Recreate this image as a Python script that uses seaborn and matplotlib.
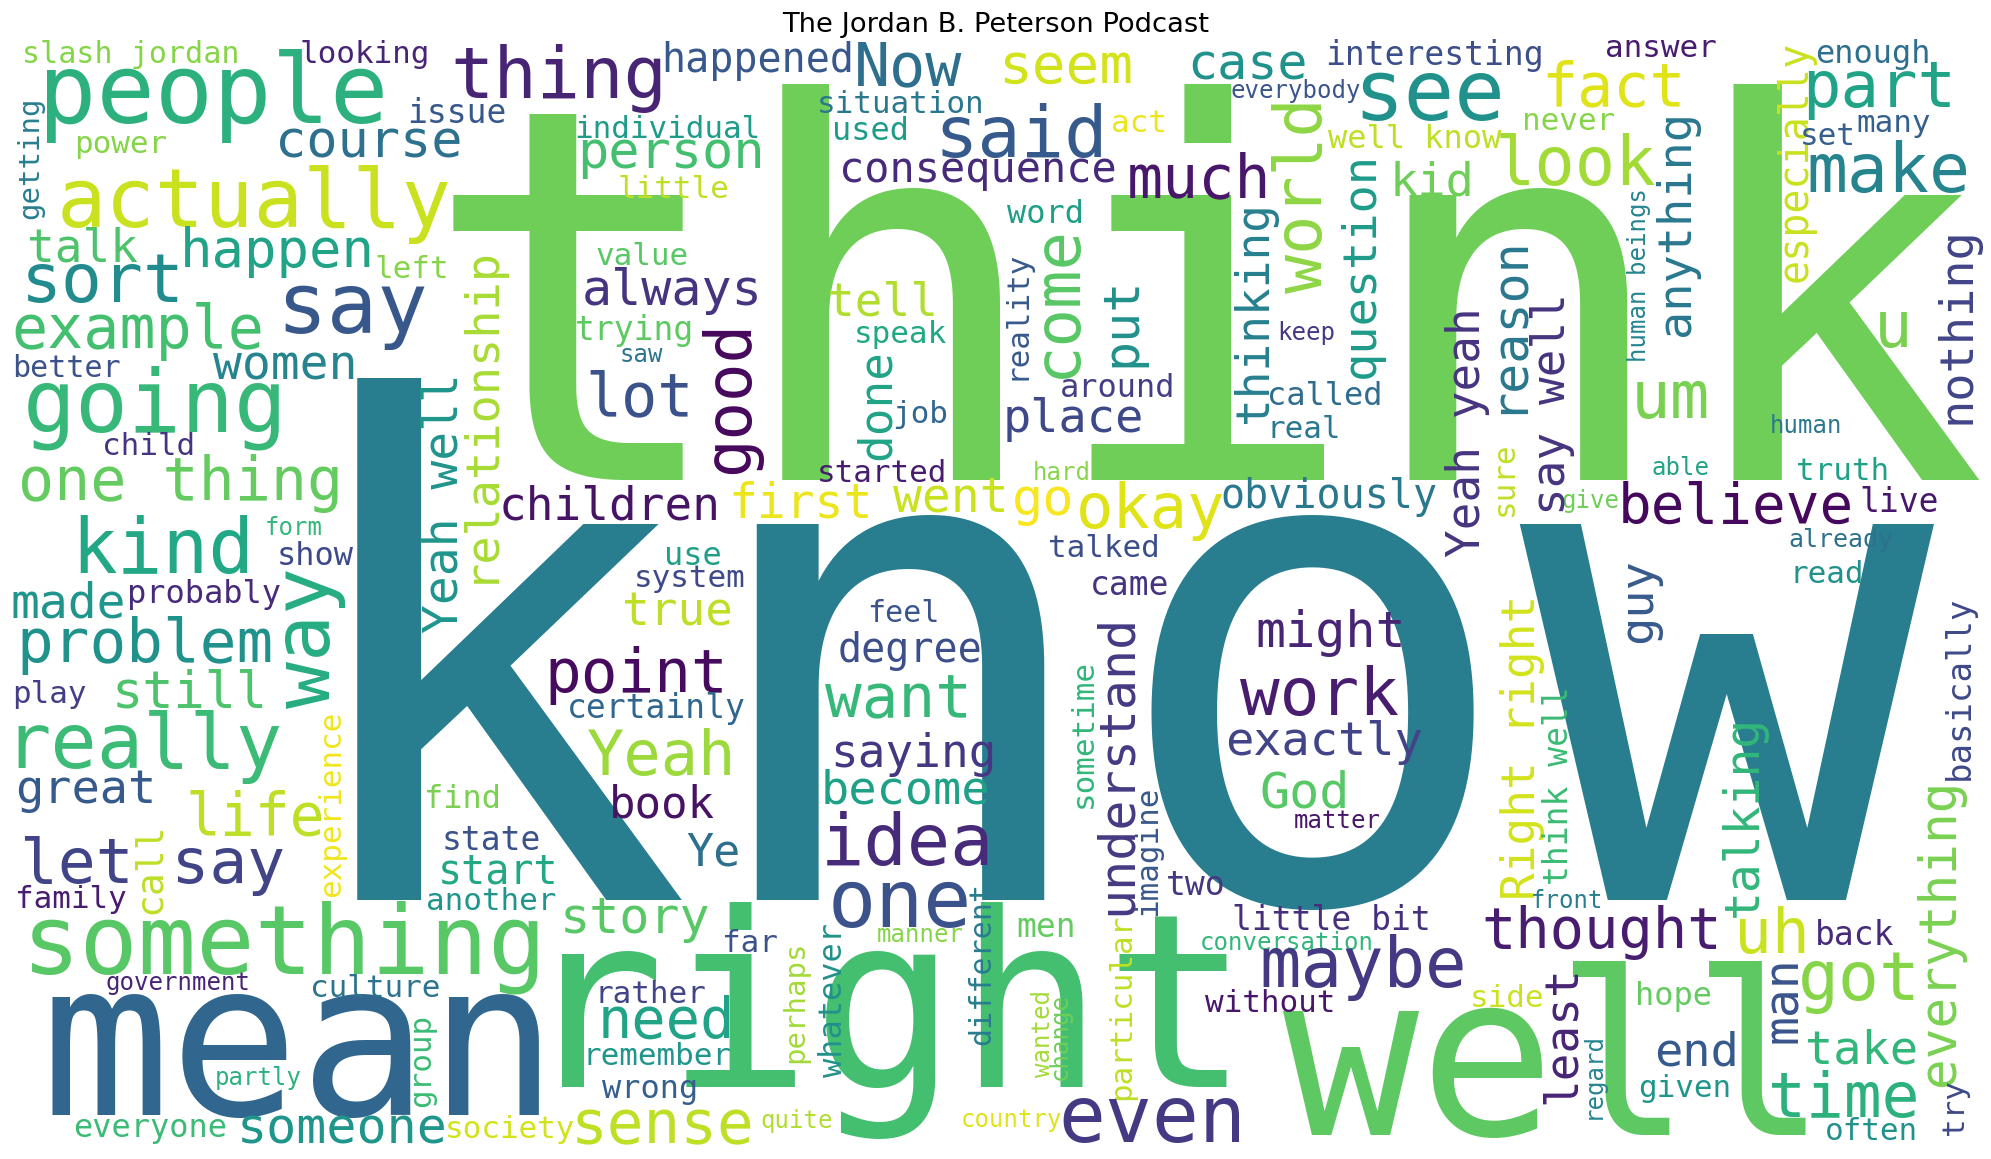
import matplotlib
matplotlib.use("Agg")
import matplotlib.pyplot as plt
import seaborn as sns
import pandas as pd
from matplotlib.font_manager import FontProperties
from matplotlib.textpath import TextPath

TITLE = "The Jordan B. Peterson Podcast"

words = [
    "know", "think", "right", "well", "mean", "something", "people", "actually", "going", "really",
    "kind", "say", "sort", "example", "happen", "talk", "course", "thing", "happened", "Now",
    "seem", "case", "interesting", "answer", "enough", "especially", "see", "fact", "part", "many",
    "set", "make", "never", "look", "well know", "kid", "anything", "human beings", "u", "nothing",
    "um", "human", "able", "truth", "believe", "give", "live", "already", "read", "guy",
    "basically", "sure", "say well", "reason", "Yeah yeah", "question", "thinking", "world", "much", "act",
    "everybody", "said", "consequence", "situation", "used", "individual", "person", "little", "value", "always",
    "tell", "trying", "saw", "speak", "word", "come", "reality", "put", "keep", "around",
    "called", "real", "place", "good", "lot", "done", "job", "started", "children", "first",
    "went", "go", "okay", "hard", "obviously", "talked", "came", "might", "work", "exactly",
    "use", "system", "true", "point", "certainly", "Yeah", "feel", "degree", "want", "saying",
    "become", "book", "Ye", "idea", "one", "story", "far", "manner", "perhaps", "whatever",
    "different", "rather", "need", "remember", "wrong", "sense", "quite", "society", "country", "government",
    "culture", "partly", "group", "everyone", "someone", "great", "life", "let say", "call", "family",
    "experience", "find", "state", "start", "another", "made", "probably", "problem", "way", "still",
    "play", "child", "one thing", "form", "show", "Yeah well", "relationship", "slash jordan", "looking", "issue",
    "getting", "power", "left", "better", "women", "Right right", "think well", "talking", "everything", "thought",
    "uh", "back", "front", "side", "hope", "least", "regard", "end", "given", "man",
    "got", "take", "time", "often", "try", "God", "matter", "understand", "sometime", "imagine",
    "two", "men", "little bit", "conversation", "particular", "maybe", "without", "wanted", "change", "even",
]

# relative weight of each word, expressed as its font size in pixels
word_size = [
    688, 521, 243, 226, 215, 97, 97, 82, 88, 77,
    76, 84, 68, 60, 54, 46, 52, 72, 40, 60,
    56, 50, 33, 31, 32, 40, 84, 60, 64, 31,
    31, 68, 31, 67, 32, 47, 47, 24, 64, 47,
    66, 24, 24, 31, 56, 24, 33, 25, 31, 47,
    34, 31, 46, 50, 46, 47, 46, 65, 60, 31,
    24, 72, 42, 31, 32, 31, 52, 31, 31, 50,
    46, 33, 24, 31, 32, 64, 31, 50, 24, 32,
    32, 31, 47, 64, 60, 46, 31, 31, 46, 48,
    48, 52, 62, 24, 40, 31, 33, 50, 66, 47,
    32, 31, 46, 61, 33, 62, 30, 40, 61, 46,
    47, 44, 45, 72, 80, 50, 31, 24, 29, 32,
    30, 31, 57, 31, 32, 61, 24, 31, 24, 24,
    31, 24, 31, 32, 50, 47, 58, 63, 38, 31,
    31, 32, 33, 40, 31, 48, 32, 61, 78, 52,
    31, 31, 60, 24, 32, 48, 47, 30, 31, 33,
    29, 31, 31, 30, 48, 46, 33, 48, 51, 57,
    63, 33, 24, 31, 32, 46, 24, 47, 31, 48,
    68, 47, 63, 31, 31, 50, 24, 50, 31, 31,
    33, 33, 33, 24, 31, 69, 31, 24, 24, 78,
]

# position of each word's colour along the viridis map
word_tone = [
    0.42, 0.78, 0.70, 0.75, 0.33, 0.74, 0.64, 0.92, 0.67, 0.68,
    0.60, 0.27, 0.48, 0.70, 0.58, 0.72, 0.37, 0.10, 0.27, 0.36,
    0.93, 0.50, 0.24, 0.08, 0.36, 0.92, 0.50, 0.95, 0.58, 0.30,
    0.30, 0.45, 0.82, 0.86, 0.90, 0.78, 0.40, 0.45, 0.80, 0.20,
    0.80, 0.40, 0.58, 0.57, 0.02, 0.78, 0.06, 0.37, 0.50, 0.28,
    0.22, 0.90, 0.15, 0.40, 0.15, 0.55, 0.43, 0.83, 0.06, 0.97,
    0.26, 0.28, 0.12, 0.40, 0.55, 0.55, 0.70, 0.90, 0.74, 0.15,
    0.88, 0.75, 0.38, 0.60, 0.56, 0.74, 0.28, 0.50, 0.17, 0.18,
    0.35, 0.40, 0.22, 0.02, 0.25, 0.58, 0.33, 0.08, 0.05, 0.97,
    0.92, 0.99, 0.95, 0.82, 0.40, 0.24, 0.15, 0.10, 0.08, 0.20,
    0.56, 0.22, 0.90, 0.03, 0.33, 0.85, 0.26, 0.24, 0.67, 0.16,
    0.57, 0.05, 0.36, 0.12, 0.25, 0.74, 0.25, 0.82, 0.86, 0.50,
    0.42, 0.20, 0.58, 0.52, 0.30, 0.90, 0.88, 0.93, 0.95, 0.10,
    0.38, 0.64, 0.68, 0.68, 0.52, 0.28, 0.90, 0.20, 0.90, 0.08,
    0.98, 0.80, 0.25, 0.60, 0.52, 0.52, 0.12, 0.50, 0.62, 0.72,
    0.18, 0.15, 0.76, 0.66, 0.22, 0.52, 0.87, 0.82, 0.10, 0.27,
    0.42, 0.82, 0.82, 0.25, 0.45, 0.93, 0.68, 0.66, 0.80, 0.08,
    0.92, 0.12, 0.42, 0.92, 0.76, 0.10, 0.45, 0.28, 0.52, 0.26,
    0.82, 0.66, 0.64, 0.50, 0.22, 0.74, 0.06, 0.17, 0.66, 0.27,
    0.16, 0.76, 0.14, 0.66, 0.90, 0.17, 0.06, 0.86, 0.78, 0.17,
]

# cloud layout (pixel canvas): ink start and baseline of each word
layout_x = [
    357, 453, 562, 1283, 52, 32, 47, 62, 28, 18,
    80, 285, 28, 15, 185, 30, 280, 455, 665, 858,
    1004, 1192, 1328, 1607, 1817, 1807, 1362, 1547, 1808, 1858,
    1803, 1810, 1525, 1500, 1328, 1395, 1689, 1646, 1880, 1969,
    1637, 1772, 1653, 1798, 1623, 1563, 1862, 1790, 1795, 1651,
    1969, 1513, 1565, 1521, 1480, 1374, 1267, 1322, 1130, 1113,
    1232, 942, 843, 820, 835, 577, 582, 620, 597, 585,
    830, 577, 622, 857, 1007, 1075, 1025, 1135, 1280, 1062,
    1270, 1272, 1007, 748, 590, 890, 895, 820, 503, 733,
    893, 1015, 1080, 1035, 1223, 1050, 1093, 1258, 1240, 1228,
    667, 637, 625, 550, 570, 588, 870, 840, 825, 835,
    825, 613, 687, 827, 833, 565, 725, 878, 803, 842,
    990, 600, 603, 588, 602, 577, 762, 448, 963, 107,
    313, 217, 430, 75, 242, 18, 190, 25, 160, 18,
    340, 427, 445, 442, 428, 13, 130, 22, 330, 117,
    15, 105, 22, 267, 280, 457, 492, 25, 302, 410,
    38, 77, 377, 15, 213, 1535, 1568, 1757, 1954, 1485,
    1740, 1818, 1533, 1473, 1638, 1575, 1600, 1657, 1640, 1797,
    1802, 1808, 1772, 1827, 1963, 1262, 1295, 1131, 1092, 1156,
    1168, 1018, 1235, 1202, 1130, 1263, 1205, 1050, 1067, 1063,
]

layout_y = [
    900, 480, 1087, 1135, 1115, 973, 123, 227, 432, 768,
    573, 333, 302, 348, 267, 262, 158, 98, 72, 85,
    83, 80, 65, 57, 63, 280, 120, 105, 107, 132,
    145, 192, 130, 185, 148, 195, 333, 360, 347, 420,
    418, 433, 475, 480, 523, 508, 512, 547, 583, 640,
    777, 513, 510, 405, 556, 375, 420, 293, 197, 132,
    98, 157, 182, 113, 140, 138, 168, 198, 265, 305,
    315, 340, 362, 343, 223, 372, 375, 362, 340, 397,
    405, 438, 432, 470, 415, 457, 423, 482, 520, 518,
    512, 515, 528, 480, 508, 557, 595, 647, 715, 755,
    565, 587, 625, 692, 718, 775, 622, 662, 717, 767,
    803, 817, 865, 865, 927, 933, 952, 942, 1060, 1077,
    1043, 1003, 1038, 1065, 1098, 1143, 1128, 1138, 1127, 990,
    997, 1085, 1105, 1137, 1143, 803, 835, 883, 910, 908,
    895, 808, 850, 883, 910, 618, 603, 662, 708, 707,
    703, 455, 500, 535, 565, 632, 575, 63, 63, 123,
    217, 153, 278, 377, 380, 897, 883, 914, 1083, 948,
    953, 945, 908, 1007, 1005, 1100, 1115, 1065, 1097, 1040,
    1000, 1063, 1117, 1140, 1133, 808, 828, 910, 805, 913,
    895, 937, 930, 950, 1097, 987, 1012, 1077, 1078, 1142,
]

layout_vertical = [
    0, 0, 0, 0, 0, 0, 0, 0, 0, 0,
    0, 0, 0, 0, 0, 0, 0, 0, 0, 0,
    0, 0, 0, 0, 0, 1, 0, 0, 0, 0,
    0, 0, 0, 0, 0, 0, 1, 1, 0, 1,
    0, 0, 0, 0, 0, 0, 0, 0, 0, 1,
    1, 1, 1, 1, 1, 1, 1, 1, 0, 0,
    0, 0, 0, 0, 0, 0, 0, 0, 0, 0,
    0, 0, 0, 0, 0, 1, 1, 1, 0, 0,
    0, 0, 0, 1, 0, 1, 0, 0, 0, 0,
    0, 0, 0, 0, 0, 0, 0, 0, 0, 0,
    0, 0, 0, 0, 0, 0, 0, 0, 0, 0,
    0, 0, 0, 0, 0, 0, 0, 0, 1, 1,
    1, 0, 0, 0, 0, 0, 0, 0, 0, 0,
    0, 0, 1, 0, 0, 0, 0, 0, 1, 0,
    1, 0, 0, 0, 0, 0, 0, 0, 1, 0,
    0, 0, 0, 0, 0, 1, 1, 0, 0, 0,
    1, 0, 0, 0, 0, 1, 1, 1, 1, 0,
    0, 0, 0, 0, 0, 1, 1, 0, 0, 1,
    0, 0, 0, 0, 1, 0, 0, 1, 1, 1,
    0, 0, 0, 0, 1, 0, 0, 1, 1, 0,
]

df = pd.DataFrame({
    "word": words, "size": word_size, "tone": word_tone,
    "x": layout_x, "y": layout_y, "vertical": layout_vertical,
})

sns.set_theme(style="white")
plt.rcParams["font.family"] = ["DejaVu Sans"]
cmap = sns.color_palette("viridis", as_cmap=True)

W, H, DPI = 1991, 1159, 100
PX2PT = 72.0 / DPI
fig = plt.figure(figsize=(W / DPI, H / DPI), dpi=DPI, facecolor="white")
ax = fig.add_axes([0, 0, 1, 1])
ax.set_xlim(0, W)
ax.set_ylim(H, 0)
ax.axis("off")

mono = FontProperties(family="DejaVu Sans Mono")

for r in df.itertuples(index=False):
    tp = TextPath((0, 0), r.word, size=100, prop=mono)
    lsb = tp.get_extents().x0 / 100.0
    color = cmap(r.tone)
    if r.vertical:
        ax.text(r.x, r.y + lsb * r.size, r.word, rotation=90, rotation_mode="anchor",
                ha="left", va="baseline", fontsize=r.size * PX2PT,
                family="DejaVu Sans Mono", color=color)
    else:
        ax.text(r.x - lsb * r.size, r.y, r.word, ha="left", va="baseline",
                fontsize=r.size * PX2PT, family="DejaVu Sans Mono", color=color)

fig.text(0.5, 1 - 32.0 / H, TITLE, ha="center", va="baseline",
         fontsize=27.4 * PX2PT, color="black")

fig.savefig("out.png", dpi=DPI, facecolor="white")
